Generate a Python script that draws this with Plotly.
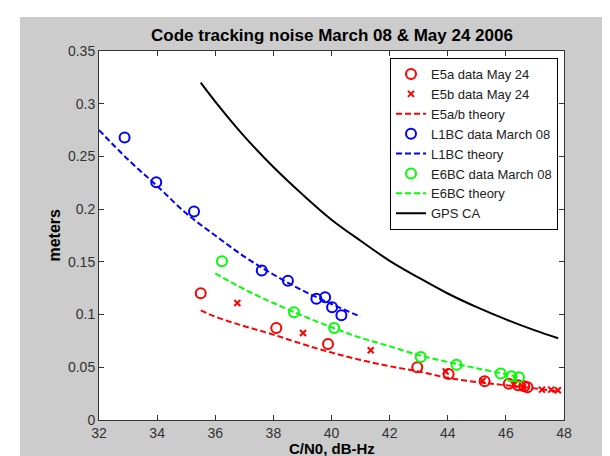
import plotly.graph_objects as go

# ---- data ----
e5a_x = [35.50, 38.10, 39.88, 42.95, 44.03, 45.27, 46.10, 46.42, 46.63, 46.74]
e5a_y = [0.1202, 0.0873, 0.0721, 0.0500, 0.0436, 0.0367, 0.0344, 0.0330, 0.0320, 0.0310]

e5b_x = [36.76, 39.02, 41.35, 43.93, 45.20, 46.28, 46.59, 47.24, 47.56, 47.79]
e5b_y = [0.1110, 0.0825, 0.0661, 0.0460, 0.0373, 0.0335, 0.0310, 0.0288, 0.0288, 0.0282]

e5_theory_x = [35.5, 36, 37, 38, 39, 40, 41, 42, 43, 44, 45, 46, 47, 47.8]
e5_theory_y = [0.104, 0.098, 0.089, 0.081, 0.072, 0.064, 0.057, 0.051, 0.046, 0.040, 0.036, 0.033, 0.030, 0.027]

l1_x = [32.88, 33.97, 35.27, 37.60, 38.50, 39.48, 39.78, 40.02, 40.34]
l1_y = [0.268, 0.2255, 0.1977, 0.1417, 0.132, 0.115, 0.1164, 0.1069, 0.0993]

l1_theory_x = [32, 33, 34, 35, 36, 37, 38, 39, 40, 41]
l1_theory_y = [0.275, 0.247, 0.222, 0.196, 0.175, 0.155, 0.138, 0.123, 0.110, 0.098]

e6_x = [36.23, 38.71, 40.09, 43.07, 44.30, 45.82, 46.19, 46.45]
e6_y = [0.1506, 0.1022, 0.0873, 0.0598, 0.0525, 0.0440, 0.0414, 0.0405]

e6_theory_x = [36, 37, 38, 39, 40, 41, 42, 43, 44, 45, 46, 46.5]
e6_theory_y = [0.139, 0.124, 0.111, 0.099, 0.088, 0.078, 0.070, 0.0615, 0.055, 0.049, 0.0435, 0.040]

gps_x = [35.5, 36, 37, 38, 39, 40, 41, 42, 43, 44, 45, 46, 47, 47.8]
gps_y = [0.320, 0.302, 0.269, 0.240, 0.214, 0.190, 0.170, 0.151, 0.135, 0.120, 0.107, 0.0954, 0.085, 0.0776]

x_ticks = [32, 34, 36, 38, 40, 42, 44, 46, 48]
y_ticks = [0, 0.05, 0.1, 0.15, 0.2, 0.25, 0.3, 0.35]
y_tick_labels = ["0", "0.05", "0.1", "0.15", "0.2", "0.25", "0.3", "0.35"]

RED, BLUE, GREEN = "#FF0000", "#0000FF", "#00FF00"
DASH = "6px,3px"
FONT = "Liberation Sans, Arial, Helvetica, sans-serif"

fig = go.Figure()
fig.add_trace(go.Scatter(x=e5a_x, y=e5a_y, mode="markers", name="E5a data May 24",
                         marker=dict(symbol="circle-open", size=10, color=RED, line=dict(width=2, color=RED))))
fig.add_trace(go.Scatter(x=e5b_x, y=e5b_y, mode="markers", name="E5b data May 24",
                         marker=dict(symbol="x-thin-open", size=6, color=RED, line=dict(width=2, color=RED))))
fig.add_trace(go.Scatter(x=e5_theory_x, y=e5_theory_y, mode="lines", name="E5a/b theory",
                         line=dict(color=RED, width=2, dash=DASH, shape="spline")))
fig.add_trace(go.Scatter(x=l1_x, y=l1_y, mode="markers", name="L1BC data March 08",
                         marker=dict(symbol="circle-open", size=10, color=BLUE, line=dict(width=2, color=BLUE))))
fig.add_trace(go.Scatter(x=l1_theory_x, y=l1_theory_y, mode="lines", name="L1BC theory",
                         line=dict(color=BLUE, width=2, dash=DASH, shape="spline")))
fig.add_trace(go.Scatter(x=e6_x, y=e6_y, mode="markers", name="E6BC data March 08",
                         marker=dict(symbol="circle-open", size=10, color=GREEN, line=dict(width=2, color=GREEN))))
fig.add_trace(go.Scatter(x=e6_theory_x, y=e6_theory_y, mode="lines", name="E6BC theory",
                         line=dict(color=GREEN, width=2, dash=DASH, shape="spline")))
fig.add_trace(go.Scatter(x=gps_x, y=gps_y, mode="lines", name="GPS CA",
                         line=dict(color="black", width=2, shape="spline")))

L, R, T, B = 91, 54, 43, 44
W, H = 610, 456
pw, ph = W - L - R, H - T - B

def px(xp):
    return (xp - L) / pw

def py(yp):
    return (H - B - yp) / ph

fig.update_layout(
    width=W, height=H,
    margin=dict(l=L, r=R, t=T, b=B),
    paper_bgcolor="white",
    plot_bgcolor="white",
    font=dict(family=FONT, size=13, color="#222"),
    showlegend=True,
    legend=dict(x=px(550), y=py(50), xanchor="right", yanchor="top",
                bgcolor="white", bordercolor="black", borderwidth=1,
                font=dict(size=13, color="#222"), tracegroupgap=0,
                itemwidth=30),
    shapes=[
        dict(type="rect", xref="paper", yref="paper", x0=px(12), x1=px(610), y0=py(455), y1=py(9),
             fillcolor="#CCCCCC", line=dict(width=0), layer="below"),
        dict(type="rect", xref="paper", yref="paper", x0=0, x1=1, y0=0, y1=1,
             fillcolor="white", line=dict(width=0), layer="below"),
    ],
    annotations=[
        dict(text="<b>Code tracking noise March 08 & May 24 2006</b>", xref="paper", yref="paper",
             x=0.5, y=py(28), xanchor="center", yanchor="middle", showarrow=False,
             font=dict(size=17, color="black", family=FONT)),
        dict(text="<b>C/N0, dB-Hz</b>", xref="paper", yref="paper",
             x=0.5, y=py(440), xanchor="center", yanchor="middle", showarrow=False,
             font=dict(size=15, color="black", family=FONT)),
        dict(text="<b>meters</b>", xref="paper", yref="paper", textangle=-90,
             x=px(46), y=0.5, xanchor="center", yanchor="middle", showarrow=False,
             font=dict(size=16, color="black", family=FONT)),
    ],
)

fig.update_xaxes(range=[32, 48], tickvals=x_ticks, ticktext=[str(v) for v in x_ticks],
                 showgrid=False, zeroline=False, showline=True, linecolor="#333", linewidth=1,
                 mirror="ticks", ticks="inside", ticklen=5, tickcolor="#333",
                 tickfont=dict(size=14, color="#333"))
fig.update_yaxes(range=[0, 0.35], tickvals=y_ticks, ticktext=y_tick_labels,
                 showgrid=False, zeroline=False, showline=True, linecolor="#333", linewidth=1,
                 mirror="ticks", ticks="inside", ticklen=5, tickcolor="#333",
                 tickfont=dict(size=14, color="#333"))

fig.write_html("out.html")
